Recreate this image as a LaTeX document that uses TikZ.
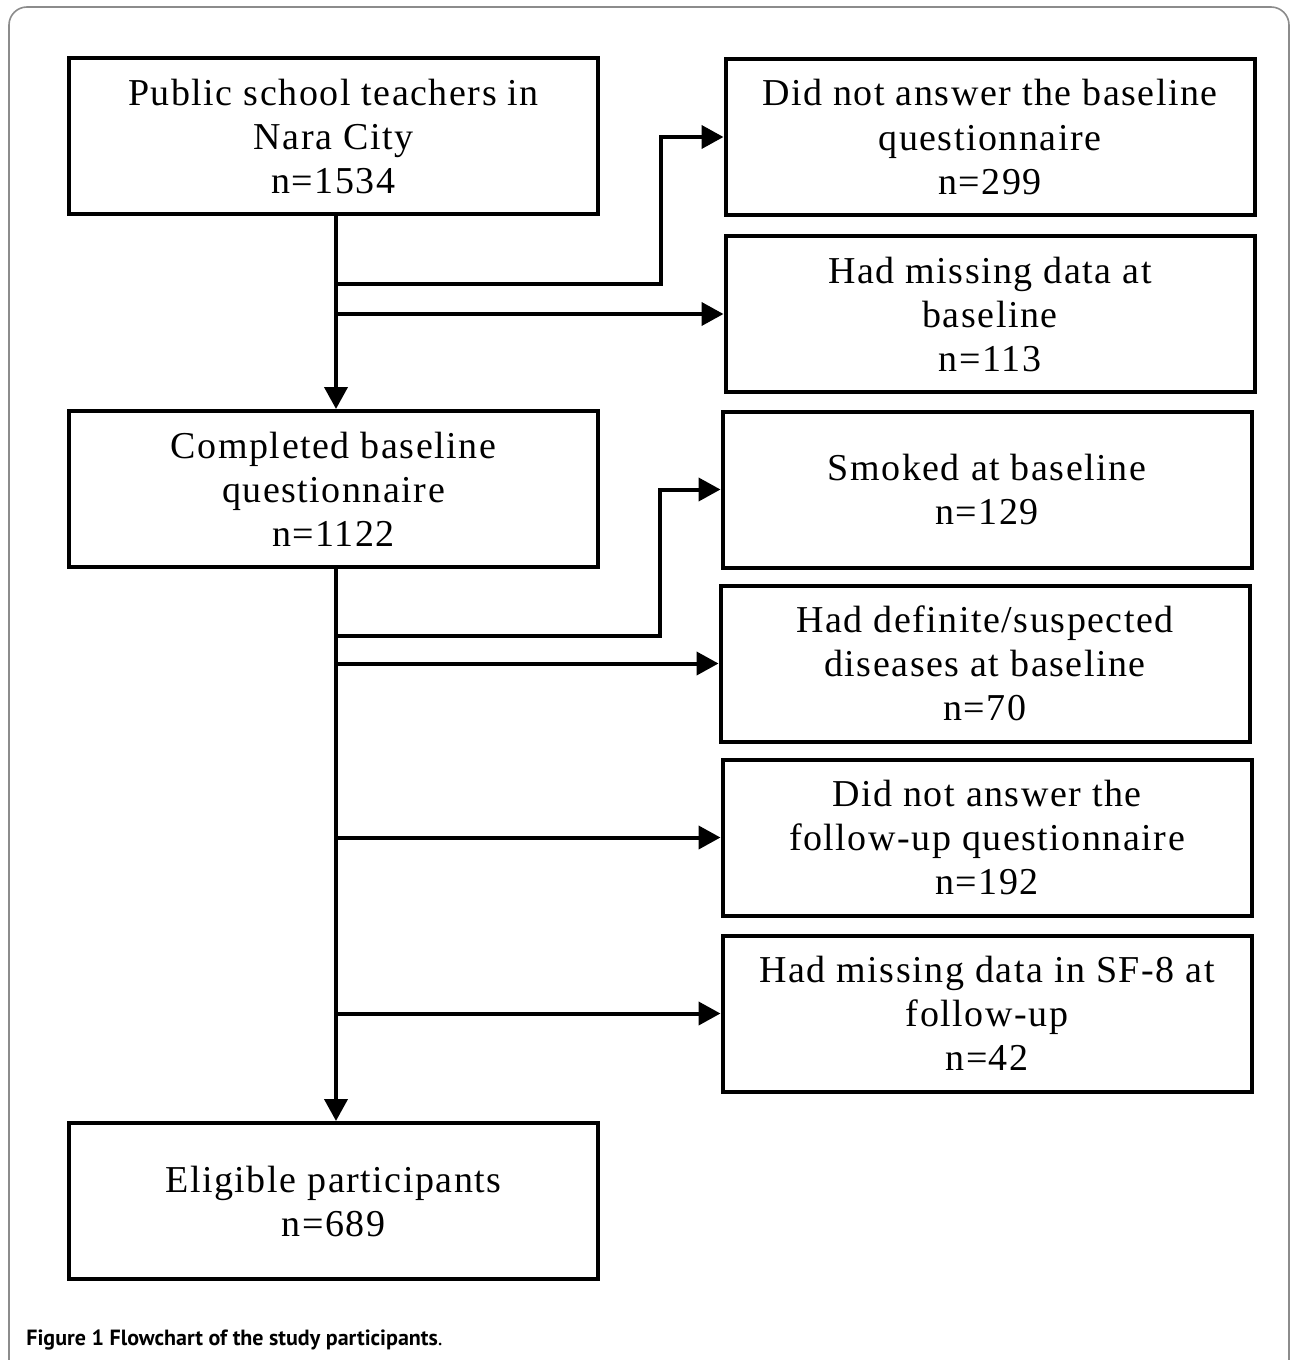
\documentclass[tikz,border=0pt]{standalone}
\usepackage{fontspec}
\setmainfont{Liberation Serif}
\newfontfamily\boxfont{Liberation Serif}[LetterSpace=4]
\newfontfamily\capfont{PT Sans}
\usetikzlibrary{positioning,arrows.meta,calc}
\definecolor{framegray}{RGB}{140,140,140}
\tikzset{
  box/.style={draw, line width=2pt, minimum width=264.5pt, minimum height=78pt,
              inner sep=0pt, align=center, font=\boxfont\fontsize{19}{22}\selectfont},
  arrow/.style={-{Triangle[length=11pt,width=11.5pt]}, line width=2pt},
}

\begin{document}
\begin{tikzpicture}[x=0.5pt, y=-0.5pt]
  \useasboundingbox (0,0) rectangle (1291,1360);
  % outer frame
  \begin{scope}
    \clip (0,0) rectangle (1291,1360);
    \draw[framegray, line width=0.8pt, rounded corners=9pt]
      (9,1420) -- (9,7) -- (1289,7) -- (1289,1420);
  \end{scope}

  % main column
  \node[box] (pop)   at (333.5,136)  {Public school teachers in\\Nara City\\n=1534};
  \node[box] (base)  at (333.5,489)  {Completed baseline\\questionnaire\\n=1122};
  \node[box] (elig)  at (333.5,1201) {Eligible participants\\n=689};

  % exclusions
  \node[box] (noans) at (990,137)    {Did not answer the baseline\\questionnaire\\n=299};
  \node[box] (miss)  at (990,314)    {Had missing data at\\baseline\\n=113};
  \node[box] (smoke) at (987,489.5)  {Smoked at baseline\\n=129};
  \node[box] (dis)   at (985,663.5)  {Had definite/suspected\\diseases at baseline\\n=70};
  \node[box] (nofu)  at (987,837.5)  {Did not answer the\\follow-up questionnaire\\n=192};
  \node[box] (sf)    at (987,1013.5) {Had missing data in SF-8 at\\follow-up\\n=42};

  % branch points on the trunk
  \coordinate (j1) at (336,284);
  \coordinate (j2) at (336,314);
  \coordinate (j3) at (336,636);
  \coordinate (j4) at (336,663.5);
  \coordinate (j5) at (336,837.5);
  \coordinate (j6) at (336,1013.5);

  \draw[arrow] (pop.south -| j1) -- (base.north -| j1);
  \draw[arrow] (base.south -| j3) -- (elig.north -| j3);
  \draw[arrow] (j1) -- (661,284) |- (noans);
  \draw[arrow] (j2) -- (miss);
  \draw[arrow] (j3) -- (660,636) |- (smoke);
  \draw[arrow] (j4) -- (dis);
  \draw[arrow] (j5) -- (nofu);
  \draw[arrow] (j6) -- (sf);

  % caption
  \node[anchor=base west, inner sep=0pt, font=\capfont\fontsize{11}{13}\selectfont] (cap) at (26,1345)
    {\textbf{Figure 1 Flowchart of the study participants}.};
\end{tikzpicture}
\end{document}
